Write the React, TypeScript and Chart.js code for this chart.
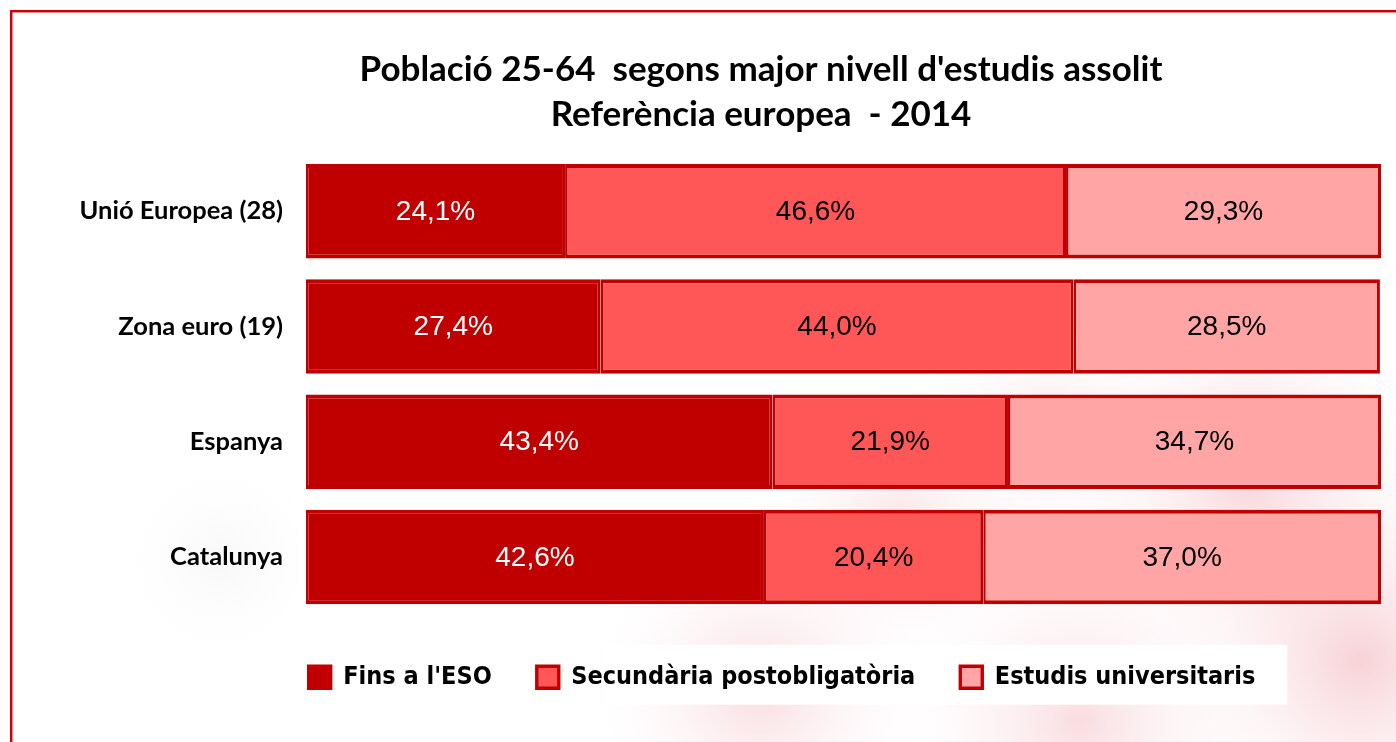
import React, { useEffect, useRef } from "react";
import { Chart, registerables } from "chart.js";

Chart.register(...registerables);

const categories: string[] = ["Unió Europea (28)", "Zona euro (19)", "Espanya", "Catalunya"];
const finsESO: number[] = [24.1, 27.4, 43.4, 42.6];
const secundaria: number[] = [46.6, 44.0, 21.9, 20.4];
const universitaris: number[] = [29.3, 28.5, 34.7, 37.0];
const seriesNames: string[] = ["Fins a l'ESO", "Secundària postobligatòria", "Estudis universitaris"];
const titleLines: string[] = ["Població 25-64  segons major nivell d'estudis assolit", "Referència europea  - 2014"];

const DARK = "#C00000";
const MID = "#FF5757";
const LIGHT = "#FFA5A5";

function blob(ctx: CanvasRenderingContext2D, x: number, y: number, r: number, color: string) {
  const g = ctx.createRadialGradient(x, y, 0, x, y, r);
  g.addColorStop(0, color);
  g.addColorStop(1, "rgba(255,255,255,0)");
  ctx.fillStyle = g;
  ctx.fillRect(x - r, y - r, r * 2, r * 2);
}

const framePlugin = {
  id: "frame",
  afterLayout(chart: any) {
    // let the category labels extend to the left of the axis box without clipping
    if (chart.scales.y) chart.scales.y.left = 14;
    if (chart.legend) {
      chart.legend.left += 21;
      chart.legend.right += 21;
      chart.legend.top += 5;
      chart.legend.bottom += 5;
    }
  },
  beforeDraw(chart: any) {
    const ctx = chart.ctx;
    ctx.save();
    ctx.fillStyle = "#FFFFFF";
    ctx.fillRect(0, 0, chart.width, chart.height);
    // faint background watermark
    const pink = "rgba(220,50,70,0.17)";
    blob(ctx, 760, 690, 180, pink);
    blob(ctx, 900, 520, 160, "rgba(220,50,70,0.12)");
    blob(ctx, 1080, 720, 200, pink);
    blob(ctx, 1250, 480, 210, "rgba(220,50,70,0.2)");
    blob(ctx, 1360, 660, 220, "rgba(220,50,70,0.22)");
    blob(ctx, 1050, 430, 140, "rgba(220,50,70,0.1)");
    blob(ctx, 220, 560, 120, "rgba(120,120,120,0.05)");
    // white backing behind the legend
    const lg = chart.legend;
    if (lg && lg.legendHitBoxes && lg.legendHitBoxes.length) {
      const hb = lg.legendHitBoxes;
      const last = hb[hb.length - 1];
      ctx.fillStyle = "#FFFFFF";
      ctx.fillRect(hb[0].left + 297, hb[0].top - 20, last.left + last.width - hb[0].left - 265, hb[0].height + 35);
    }
    ctx.strokeStyle = "#CC0008";
    ctx.lineWidth = 2.5;
    ctx.strokeRect(11.2, 11.2, chart.width + 20, chart.height + 20);
    ctx.restore();
  },
};

const valueLabels = {
  id: "valueLabels",
  afterDatasetsDraw(chart: any) {
    const ctx = chart.ctx;
    ctx.save();
    ctx.font = "28px 'Liberation Sans', Arial, sans-serif";
    ctx.textAlign = "center";
    ctx.textBaseline = "middle";
    chart.data.datasets.forEach((ds: any, di: number) => {
      const meta = chart.getDatasetMeta(di);
      meta.data.forEach((el: any, i: number) => {
        const v = ds.data[i] as number;
        const cx = (el.x + el.base) / 2;
        ctx.fillStyle = di === 0 ? "#FFFFFF" : "#000000";
        ctx.fillText(v.toFixed(1).replace(".", ",") + "%", cx, el.y + 1);
      });
    });
    ctx.restore();
  },
};

export default function App() {
  const ref = useRef<HTMLCanvasElement | null>(null);
  useEffect(() => {
    if (!ref.current) return;
    const border = { top: 4, bottom: 4, left: 2.5, right: 3 };
    const common = { borderColor: DARK, borderWidth: border, borderSkipped: false, categoryPercentage: 1, barPercentage: 0.82 };
    const chart = new Chart(ref.current, {
      type: "bar",
      data: {
        labels: categories,
        datasets: [
          { label: seriesNames[0], data: finsESO, backgroundColor: DARK, ...common },
          { label: seriesNames[1], data: secundaria, backgroundColor: MID, ...common },
          { label: seriesNames[2], data: universitaris, backgroundColor: LIGHT, ...common },
        ],
      },
      options: {
        indexAxis: "y",
        animation: false,
        responsive: true,
        maintainAspectRatio: false,
        layout: { padding: { left: 141, right: 15, top: 0, bottom: 47.3 } },
        scales: {
          x: { stacked: true, min: 0, max: 100, display: false },
          y: {
            stacked: true,
            grid: { display: false },
            border: { display: false },
            ticks: { color: "#000000", padding: 15, font: { family: "Lato", weight: "bold", size: 25.5 } },
            afterFit: (scale: any) => { scale.width = 165; },
          },
        },
        plugins: {
          title: {
            display: true,
            text: titleLines,
            color: "#000000",
            font: { family: "Lato", weight: "bold", size: 35, lineHeight: 1.286 },
            padding: { top: 47.5, bottom: 16 },
          },
          legend: {
            position: "bottom",
            labels: {
              color: "#000000",
              boxWidth: 22,
              boxHeight: 22,
              padding: 45,
              font: { family: "DejaVu Sans Condensed", weight: "bold", size: 25 },
            },
          },
          tooltip: { enabled: false },
        },
      },
      plugins: [framePlugin, valueLabels],
    });
    return () => chart.destroy();
  }, []);
  return (
    <div style={{ position: "fixed", left: 0, top: 0, width: 1396, height: 742, background: "#fff" }}>
      <canvas ref={ref} />
    </div>
  );
}
